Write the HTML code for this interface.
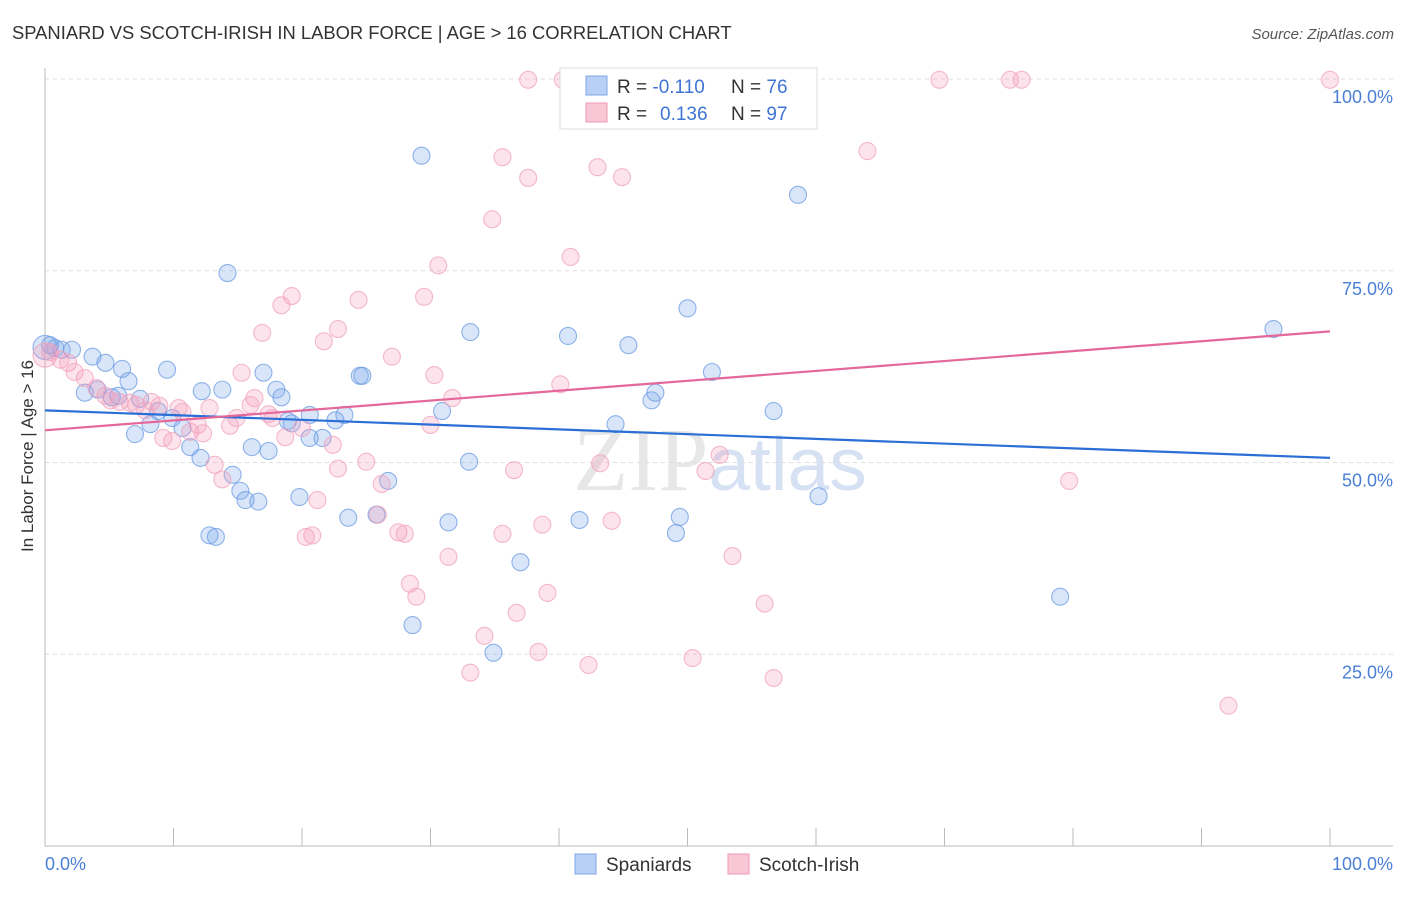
<!DOCTYPE html>
<html><head><meta charset="utf-8"><style>
body{margin:0;background:#fff;font-family:"Liberation Sans",sans-serif}
</style></head><body>
<svg width="1406" height="892" xmlns="http://www.w3.org/2000/svg" font-family="Liberation Sans, sans-serif">
<text x="12" y="39" font-size="18.4" fill="#333">SPANIARD VS SCOTCH-IRISH IN LABOR FORCE | AGE &gt; 16 CORRELATION CHART</text>
<text x="1394" y="39" font-size="15" fill="#555" text-anchor="end" font-style="italic">Source: ZipAtlas.com</text>
<text x="720" y="490" font-size="90" text-anchor="middle" fill="#ddd" font-family="Liberation Serif, serif" opacity="0.7">ZIP<tspan fill="#c5d6ef" font-family="Liberation Sans, sans-serif" font-size="75">atlas</tspan></text>
<g id="grid"></g>
<g id="axes"></g>
<g id="marks"></g>
<text transform="translate(33,456) rotate(-90)" font-size="17" fill="#333" text-anchor="middle">In Labor Force | Age &gt; 16</text>
<g>
<rect x="560" y="68" width="257" height="61" fill="#fff" stroke="#ddd"/>
<rect x="586" y="76" width="21" height="19" fill="#b8d0f5" stroke="#7ea6e6"/>
<rect x="586" y="103" width="21" height="19" fill="#f9c6d5" stroke="#ee9ab5"/>
<text x="617" y="93" font-size="19" fill="#333">R = <tspan fill="#3f74d6">-0.110</tspan></text>
<text x="731" y="93" font-size="19" fill="#333">N = <tspan fill="#3f74d6">76</tspan></text>
<text x="617" y="120" font-size="19" fill="#333">R = <tspan fill="#3f74d6" x="660">0.136</tspan></text>
<text x="731" y="120" font-size="19" fill="#333">N = <tspan fill="#3f74d6">97</tspan></text>
</g>
<g>
<rect x="575" y="854" width="21" height="20" fill="#b8d0f5" stroke="#7ea6e6"/>
<text x="606" y="871" font-size="19" fill="#333">Spaniards</text>
<rect x="728" y="854" width="21" height="20" fill="#f9c6d5" stroke="#ee9ab5"/>
<text x="759" y="871" font-size="19" fill="#333">Scotch-Irish</text>
</g>
</svg>
<script>
const blueX=[0.4,0.8,1.3,2.1,3.7,4.7,6.0,6.5,9.5,3.1,4.1,5.2,5.7,7.4,7.0,8.2,8.8,9.9,10.7,11.3,12.1,12.2,13.8,14.2,14.6,15.2,15.6,16.6,12.8,13.3,16.1,17.4,17.0,18.0,18.4,18.9,19.2,19.8,20.6,20.6,21.6,22.6,23.3,23.6,24.5,24.7,25.8,26.7,28.6,29.3,30.9,31.4,33.0,33.1,34.9,37.0,40.7,41.6,44.4,45.4,47.2,47.5,49.1,49.4,50.0,51.9,56.7,58.6,60.2,79.0,95.6,0];
const blueY=[65.3,64.9,64.7,64.7,63.8,63.0,62.2,60.6,62.1,59.1,59.5,58.5,58.7,58.3,53.7,55.0,56.7,55.8,54.5,52.0,50.6,59.3,59.5,74.7,48.4,46.3,45.1,44.9,40.5,40.3,52.0,51.5,61.7,59.5,58.5,55.4,55.1,45.5,56.2,53.2,53.2,55.5,56.2,42.8,61.3,61.3,43.2,47.6,28.8,90.0,56.7,42.2,50.1,67.0,25.2,37.0,66.5,42.5,55.0,65.3,58.1,59.1,40.8,42.9,70.1,61.8,56.7,84.9,45.6,32.5,67.4,65.0];
const pinkX=[0.4,1.2,1.8,2.3,3.1,4.0,4.7,5.1,5.8,6.6,7.1,7.8,8.3,8.9,9.2,9.9,10.4,10.7,11.3,11.9,12.3,12.8,13.2,13.8,14.4,14.9,15.3,16.3,16.0,16.9,17.4,17.7,18.4,19.2,18.7,20.0,21.2,20.3,20.8,21.7,22.4,22.8,24.4,22.8,25.0,26.2,27.0,27.5,28.0,25.9,28.4,28.9,29.5,30.3,30.0,30.6,31.4,31.7,33.1,34.2,34.8,35.6,35.6,36.5,36.7,37.6,37.6,38.4,38.7,39.1,40.1,40.9,42.3,43.0,43.2,44.1,44.9,46.0,51.4,52.5,53.5,50.4,56.0,56.7,64.0,69.6,75.1,76.0,79.7,92.1,100,40.3,48.1,0];
const pinkY=[64.4,63.4,63.0,61.8,61.0,59.7,58.7,58.1,57.9,57.8,57.5,56.8,57.9,57.4,53.2,52.8,57.1,56.6,54.0,54.9,53.8,57.1,49.7,47.8,54.8,55.8,61.7,58.4,57.5,66.9,56.3,55.8,70.5,71.7,53.3,54.5,45.1,40.3,40.5,65.8,52.3,67.4,71.2,49.2,50.1,47.2,63.8,40.9,40.7,43.2,34.2,32.5,71.6,61.4,54.9,75.7,37.7,58.4,22.6,27.4,81.7,89.8,40.7,49.0,30.4,87.1,99.9,25.3,41.9,33.0,60.2,76.8,23.6,88.5,49.9,42.4,87.2,99.9,48.9,51.0,37.8,24.5,31.6,21.9,90.6,99.9,99.9,99.9,47.6,18.3,99.9,99.9,99.9,64.0];
const blueTrend=[56.8,50.6];
const pinkTrend=[54.2,67.1];
const yTicks=[100,75,50,25];
const yTickLabels=["100.0%","75.0%","50.0%","25.0%"];
const xTicks=[0,10,20,30,40,50,60,70,80,90,100];
const NS="http://www.w3.org/2000/svg";
const X=v=>45+v*12.85, Y=v=>846-v*7.67;
function mk(p,t,a){const e=document.createElementNS(NS,t);for(const k in a)e.setAttribute(k,a[k]);p.appendChild(e);return e;}
const grid=document.getElementById('grid'),axes=document.getElementById('axes'),marks=document.getElementById('marks');
yTicks.forEach((t,i)=>{
 const l=mk(grid,'line',{x1:45,x2:1393,y1:Y(t),y2:Y(t),stroke:'#ddd','stroke-dasharray':'4,4'});
 
 
 const tx=mk(axes,'text',{x:1393,y:Y(t)+24,'font-size':18,fill:'#4a7fd6','text-anchor':'end'});
 tx.textContent=yTickLabels[i];
 
 
});
const ya=mk(axes,'line',{x1:45,x2:45,y1:68,y2:846,stroke:'#bbb'});


const xa=mk(axes,'line',{x1:45,x2:1393,y1:846,y2:846,stroke:'#bbb'});


xTicks.forEach(t=>{
 const l=mk(axes,'line',{x1:X(t),x2:X(t),y1:828,y2:846,stroke:'#bbb'});
 
 
});
const x0=mk(axes,'text',{x:45,y:870,'font-size':18,fill:'#4a7fd6'});x0.textContent='0.0%';


const x1=mk(axes,'text',{x:1393,y:870,'font-size':18,fill:'#4a7fd6','text-anchor':'end'});x1.textContent='100.0%';


function pts(xs,ys,fill,stroke,name){
 xs.forEach((v,i)=>{
  const big=(v===0);
  const c=mk(marks,'circle',{cx:X(v),cy:Y(ys[i]),r:big?12:8.5,fill:fill,stroke:stroke,'stroke-width':1.1,'stroke-opacity':0.75});
  
  
 });
}
pts(blueX,blueY,'rgba(120,165,235,0.28)','#6b9be3','spaniard-point');
pts(pinkX,pinkY,'rgba(245,155,185,0.28)','#f0a3bc','scotch-irish-point');
const bt=mk(marks,'line',{x1:X(0),y1:Y(blueTrend[0]),x2:X(100),y2:Y(blueTrend[1]),stroke:'#2a6fd6','stroke-width':2.2});


const pt=mk(marks,'line',{x1:X(0),y1:Y(pinkTrend[0]),x2:X(100),y2:Y(pinkTrend[1]),stroke:'#e4689a','stroke-width':2.2});


</script>
</body></html>
